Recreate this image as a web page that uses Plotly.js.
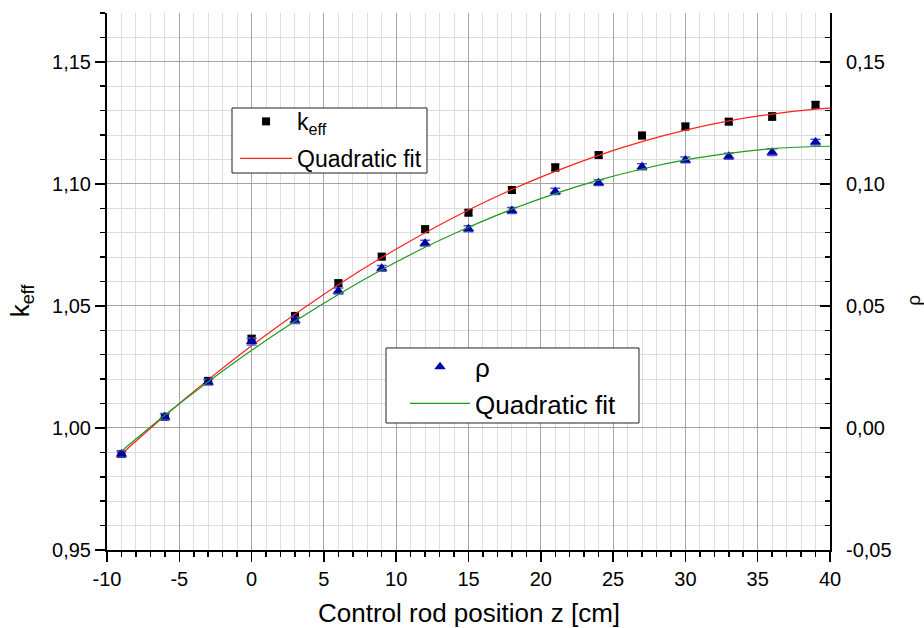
<!DOCTYPE html>
<html>
<head>
<meta charset="utf-8">
<script src="https://cdn.plot.ly/plotly-3.0.1.min.js"></script>
<style>
  html, body { margin: 0; padding: 0; background: #fff; }
  #chart { width: 924px; height: 628px; }
</style>
</head>
<body>
<div id="chart"></div>
<script>
// Control rod position z [cm]
const zPos = [-9, -6, -3, 0, 3, 6, 9, 12, 15, 18, 21, 24, 27, 30, 33, 36, 39];

// Multiplication factor k_eff and its uncertainty
const keff = [0.9893, 1.0046, 1.0193, 1.0365, 1.0459, 1.0593, 1.0702, 1.0814, 1.0882,
              1.0975, 1.1067, 1.1118, 1.1198, 1.1235, 1.1255, 1.1276, 1.1324];
const keffErr = [0.0012, 0.0012, 0.0012, 0.0014, 0.0013, 0.0012, 0.0012, 0.0012, 0.0012,
                 0.0012, 0.0013, 0.0012, 0.0012, 0.0012, 0.0012, 0.0014, 0.0012];

// Reactivity rho and its uncertainty
const rho = [-0.0107, 0.0046, 0.0188, 0.0354, 0.0441, 0.0561, 0.0654, 0.0757, 0.0816,
             0.0891, 0.0969, 0.1005, 0.1070, 0.1098, 0.1113, 0.1130, 0.1171];
const rhoErr = [0.0012, 0.0012, 0.0012, 0.0014, 0.0013, 0.0012, 0.0012, 0.0012, 0.0012,
                0.0012, 0.0013, 0.0012, 0.0012, 0.0012, 0.0012, 0.0014, 0.0012];

// Quadratic fit curves, sampled along z
const fitZ = [-9, -6, -3, 0, 3, 6, 9, 12, 15, 18, 21, 24, 27, 30, 33, 36, 39, 40];
const keffFit = [0.9893, 1.0050, 1.0198, 1.0337, 1.0466, 1.0587, 1.0698, 1.0800, 1.0893,
                 1.0977, 1.1051, 1.1117, 1.1173, 1.1220, 1.1258, 1.1286, 1.1306, 1.1310];
const rhoFit = [-0.0095, 0.0052, 0.0189, 0.0318, 0.0437, 0.0547, 0.0648, 0.0740, 0.0822,
                0.0896, 0.0960, 0.1015, 0.1061, 0.1098, 0.1125, 0.1144, 0.1153, 0.1154];

// Tick labels (comma as decimal separator, plain hyphen for negatives)
const xTickVals = [-10, -5, 0, 5, 10, 15, 20, 25, 30, 35, 40];
const xTickText = ['-10', '-5', '0', '5', '10', '15', '20', '25', '30', '35', '40'];
const yTickVals = [0.95, 1.00, 1.05, 1.10, 1.15];
const yTickText = ['0,95', '1,00', '1,05', '1,10', '1,15'];
const y2TickVals = [-0.05, 0.00, 0.05, 0.10, 0.15];
const y2TickText = ['-0,05', '0,00', '0,05', '0,10', '0,15'];

const FONT = 'Arial, "Liberation Sans", sans-serif';
const MAJOR_GRID = '#a4a4a4';
const MINOR_GRID = '#dedede';

const traces = [
  {
    x: zPos, y: keff, type: 'scatter', mode: 'markers', name: 'k<sub>eff</sub>',
    marker: { symbol: 'square', size: 8, color: '#000000' },
    error_y: { type: 'data', array: keffErr, visible: true, color: '#000000', thickness: 1.5, width: 4 },
    legend: 'legend', legendgroup: 'a'
  },
  {
    x: fitZ, y: keffFit, type: 'scatter', mode: 'lines', name: 'Quadratic fit',
    line: { color: '#ff2020', width: 1.2, shape: 'spline' },
    legend: 'legend', legendgroup: 'b'
  },
  {
    x: zPos, y: rho, yaxis: 'y2', type: 'scatter', mode: 'markers', name: 'ρ',
    marker: { symbol: 'triangle-up', size: 10, color: '#0000a8' },
    error_y: { type: 'data', array: rhoErr, visible: true, color: '#5555cc', thickness: 1.5, width: 5 },
    legend: 'legend2', legendgroup: 'c'
  },
  {
    x: fitZ, y: rhoFit, yaxis: 'y2', type: 'scatter', mode: 'lines', name: 'Quadratic fit',
    line: { color: '#1f9a1f', width: 1.2, shape: 'spline' },
    legend: 'legend2', legendgroup: 'd'
  }
];

const tickCommon = {
  tickfont: { family: FONT, size: 20, color: '#000' },
  tickcolor: '#000', tickwidth: 1.5,
  showline: true, linecolor: '#000', linewidth: 2,
  zeroline: false, tickmode: 'array'
};

const layout = {
  width: 924, height: 628,
  margin: { l: 107, r: 94, t: 13, b: 78, pad: 0 },
  paper_bgcolor: '#ffffff', plot_bgcolor: '#ffffff',
  font: { family: FONT, size: 20, color: '#000' },
  showlegend: true,
  xaxis: Object.assign({}, tickCommon, {
    range: [-10, 40], tickvals: xTickVals, ticktext: xTickText,
    ticks: 'outside', ticklen: 10,
    showgrid: true, gridcolor: MAJOR_GRID, gridwidth: 1,
    minor: { tickmode: 'linear', tick0: 0, dtick: 1, ticks: 'outside', ticklen: 5,
             tickwidth: 1.5, tickcolor: '#000', showgrid: true, gridcolor: MINOR_GRID, gridwidth: 1 }
  }),
  yaxis: Object.assign({}, tickCommon, {
    range: [0.95, 1.17], tickvals: yTickVals, ticktext: yTickText,
    ticks: 'outside', ticklen: 10,
    showgrid: true, gridcolor: MAJOR_GRID, gridwidth: 1,
    minor: { tickmode: 'linear', tick0: 0.95, dtick: 0.01, ticks: 'outside', ticklen: 5,
             tickwidth: 1.5, tickcolor: '#000', showgrid: true, gridcolor: MINOR_GRID, gridwidth: 1 }
  }),
  yaxis2: Object.assign({}, tickCommon, {
    overlaying: 'y', side: 'right', anchor: 'x',
    range: [-0.05, 0.17], tickvals: y2TickVals, ticktext: y2TickText,
    ticks: 'inside', ticklen: 10, ticklabelstandoff: 10,
    showgrid: false,
    minor: { tickmode: 'linear', tick0: -0.05, dtick: 0.01, ticks: 'inside', ticklen: 5,
             tickwidth: 1.5, tickcolor: '#000', showgrid: false }
  }),
  // Axis titles placed as annotations for precise positioning
  annotations: [
    { text: 'Control rod position z [cm]', xref: 'paper', yref: 'paper', x: 0.5, y: -0.1165,
      xanchor: 'center', yanchor: 'middle', showarrow: false,
      font: { family: FONT, size: 26, color: '#000' } },
    { text: 'k<sub>eff</sub>', xref: 'paper', yref: 'paper', x: -0.119, y: 0.465,
      xanchor: 'center', yanchor: 'middle', textangle: -90, showarrow: false,
      font: { family: FONT, size: 26, color: '#000' } },
    { text: 'ρ', xref: 'paper', yref: 'paper', x: 1.1155, y: 0.465,
      xanchor: 'center', yanchor: 'middle', textangle: -90, showarrow: false,
      font: { family: FONT, size: 19, color: '#000' } }
  ],
  legend: {
    x: 0.1771, y: 0.8381, xanchor: 'left', yanchor: 'top',
    bgcolor: 'rgba(0,0,0,0)', borderwidth: 0,
    font: { family: FONT, size: 23, color: '#000' },
    traceorder: 'grouped', tracegroupgap: 4, itemwidth: 52
  },
  legend2: {
    x: 0.4122, y: 0.3850, xanchor: 'left', yanchor: 'top',
    bgcolor: 'rgba(0,0,0,0)', borderwidth: 0,
    font: { family: FONT, size: 26, color: '#000' },
    traceorder: 'grouped', tracegroupgap: 0, itemwidth: 60
  },
  // Framed boxes behind the two legends
  shapes: [
    { type: 'rect', xref: 'paper', yref: 'paper', x0: 0.1729, x1: 0.4426, y0: 0.7020, y1: 0.8231,
      line: { color: '#222', width: 1 }, fillcolor: '#ffffff', layer: 'above' },
    { type: 'rect', xref: 'paper', yref: 'paper', x0: 0.3859, x1: 0.7358, y0: 0.2365, y1: 0.3762,
      line: { color: '#222', width: 1 }, fillcolor: '#ffffff', layer: 'above' }
  ]
};

Plotly.newPlot('chart', traces, layout, { displayModeBar: false, staticPlot: true });
</script>
</body>
</html>
